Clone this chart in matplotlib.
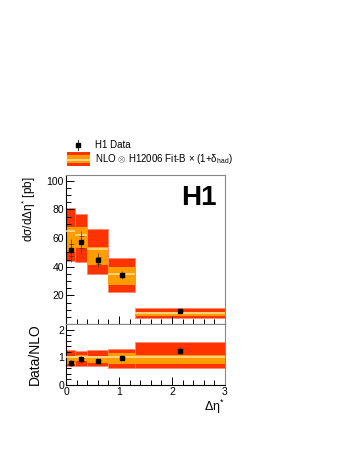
import matplotlib
matplotlib.use('Agg')
import matplotlib.pyplot as plt
from matplotlib.patches import Rectangle
from matplotlib.lines import Line2D
from matplotlib.ticker import MultipleLocator
import numpy as np

plt.rcParams['font.family'] = ['Liberation Sans', 'DejaVu Sans']
plt.rcParams['mathtext.fontset'] = 'custom'
plt.rcParams['mathtext.rm'] = 'Liberation Sans'
plt.rcParams['mathtext.it'] = 'Liberation Sans:italic'

# binning in delta eta*
bin_edges = np.array([0.0, 0.17, 0.4, 0.8, 1.3, 3.0])

# H1 data
data_x = np.array([0.085, 0.285, 0.6, 1.05, 2.15])
data_y = np.array([51.5, 57.3, 44.6, 34.1, 9.3])
data_stat = np.array([4.0, 4.0, 2.5, 1.5, 0.5])
data_tot = np.array([8.0, 7.5, 5.0, 3.0, 1.0])

# NLO prediction with uncertainty bands
nlo = np.array([65.0, 62.0, 52.0, 35.0, 7.5])
nlo_in_lo = np.array([50.0, 53.0, 41.0, 27.0, 5.8])
nlo_in_hi = np.array([68.0, 68.0, 54.0, 40.0, 8.1])
nlo_out_lo = np.array([44.0, 43.0, 35.0, 22.0, 4.5])
nlo_out_hi = np.array([81.0, 77.0, 66.0, 46.0, 11.5])

RED = '#ff3300'
ORANGE = '#ff9d00'
LINE = '#ffe09a'
EDGE = '#ff8a70'

W, H = 349, 451


def px_box(l, t, r, b):
    # pixel box -> figure fraction [left, bottom, width, height]
    return [l / W, 1 - b / H, (r - l) / W, (b - t) / H]


def draw_bands(ax, out_lo, out_hi, in_lo, in_hi, cen):
    w = np.diff(bin_edges)
    ax.bar(bin_edges[:-1], out_hi - out_lo, width=w, bottom=out_lo, align='edge',
           color=RED, edgecolor=EDGE, linewidth=0.6, zorder=1)
    ax.bar(bin_edges[:-1], in_hi - in_lo, width=w, bottom=in_lo, align='edge',
           color=ORANGE, edgecolor='none', linewidth=0, zorder=2)
    ax.hlines(cen, bin_edges[:-1], bin_edges[1:], color=LINE, lw=1.1, zorder=3)


def draw_data(ax, y, stat, tot):
    ax.errorbar(data_x, y, yerr=tot, fmt='none', ecolor='#333333', elinewidth=0.6,
                capsize=0, zorder=4, alpha=0.75)
    ax.errorbar(data_x, y, yerr=stat, fmt='none', ecolor='#333333', elinewidth=0.6,
                capsize=1.8, capthick=0.6, zorder=4, alpha=0.75)
    ax.plot(data_x, y, 's', color='black', ms=2.2, zorder=5)


def style_axes(ax):
    ax.tick_params(which='both', direction='in', top=False, right=False,
                   labelsize=7.5, pad=1.5)
    ax.tick_params(which='major', length=6, width=0.7)
    ax.tick_params(which='minor', length=3.5, width=0.7)
    for s in ['top', 'right']:
        ax.spines[s].set_color('#888888')
        ax.spines[s].set_linewidth(0.8)
    for s in ['left', 'bottom']:
        ax.spines[s].set_linewidth(0.8)
    ax.set_xlim(0, 3)
    ax.xaxis.set_major_locator(MultipleLocator(1))
    ax.xaxis.set_minor_locator(MultipleLocator(0.2))


fig = plt.figure(figsize=(W / 100, H / 100), dpi=100)

ax1 = fig.add_axes(px_box(66, 175, 225, 324))
draw_bands(ax1, nlo_out_lo, nlo_out_hi, nlo_in_lo, nlo_in_hi, nlo)
draw_data(ax1, data_y, data_stat, data_tot)
style_axes(ax1)
ax1.set_ylim(0, 104)
ax1.yaxis.set_major_locator(MultipleLocator(20))
ax1.yaxis.set_minor_locator(MultipleLocator(5))
ax1.set_yticks([20, 40, 60, 80, 100])
ax1.tick_params(axis='x', labelbottom=False)
ax1.text(0.95, 0.935, 'H1', transform=ax1.transAxes, ha='right', va='top',
         fontsize=20, fontweight='bold')
fig.text(29 / W, 1 - 176 / H, 'dσ/dΔη$^{*}$ [pb]', rotation=90, ha='center',
         va='top', fontsize=8.5)

ax2 = fig.add_axes(px_box(66, 324, 225, 385))
draw_bands(ax2, nlo_out_lo / nlo, nlo_out_hi / nlo, nlo_in_lo / nlo, nlo_in_hi / nlo,
           nlo / nlo)
draw_data(ax2, data_y / nlo, data_stat / nlo, data_tot / nlo)
style_axes(ax2)
ax2.set_ylim(0, 2.2)
ax2.yaxis.set_major_locator(MultipleLocator(1))
ax2.yaxis.set_minor_locator(MultipleLocator(0.2))
ax2.set_yticks([0, 1, 2])
fig.text(35 / W, 1 - 354 / H, 'Data/NLO', rotation=90, ha='center', va='center',
         fontsize=10)
fig.text(225 / W, 1 - 407 / H, 'Δη$^{*}$', ha='right', va='center', fontsize=9)

# legend
leg = fig.add_axes([0, 0, 1, 1], facecolor='none')
leg.set_xlim(0, W)
leg.set_ylim(H, 0)
leg.axis('off')
leg.add_patch(Rectangle((67, 151.7), 23, 14.3, color=RED, lw=0))
leg.add_patch(Rectangle((67, 155), 23, 7.7, color=ORANGE, lw=0))
leg.add_line(Line2D([67, 90], [159.8, 159.8], color=LINE, lw=1.2))
leg.add_line(Line2D([78, 78], [140, 150], color='#333333', lw=0.7))
leg.add_line(Line2D([78], [145], marker='s', color='black', ms=2.2))
leg.text(95, 145, 'H1 Data', ha='left', va='center', fontsize=7)
leg.text(95, 159, 'NLO $\\otimes$ H12006 Fit-B $\\times$ (1+δ$_{\\rm had}$)', ha='left',
         va='center', fontsize=7)

fig.savefig('out.png', dpi=100)
